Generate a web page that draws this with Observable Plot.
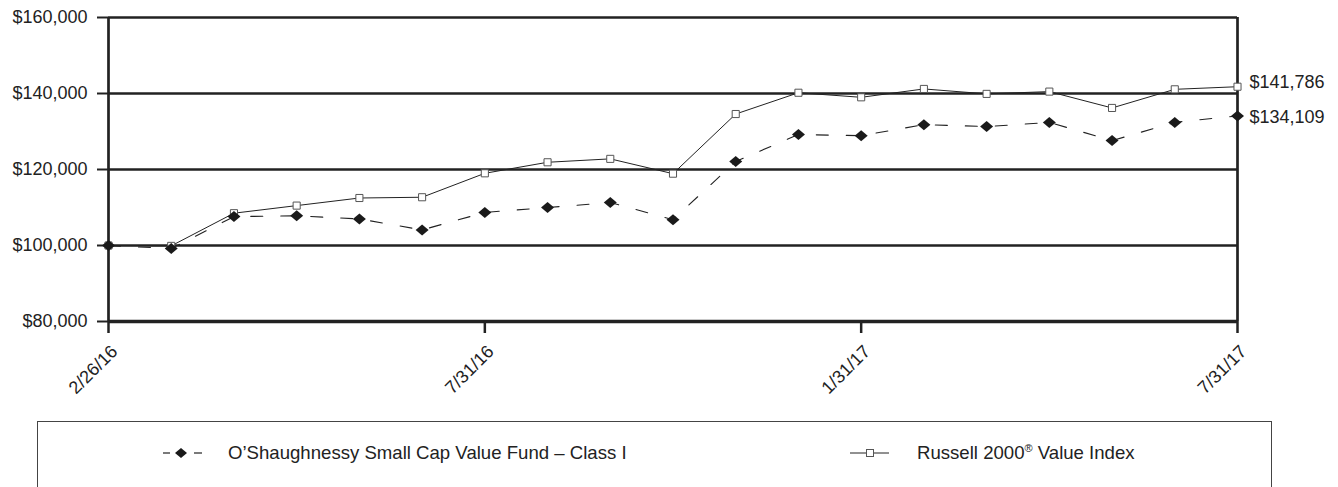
<!DOCTYPE html>
<html>
<head>
<meta charset="utf-8">
<script src="https://cdn.jsdelivr.net/npm/d3@7"></script>
<script src="https://cdn.jsdelivr.net/npm/@observablehq/plot@0.6"></script>
<style>
  html, body { margin: 0; padding: 0; background: #fff; }
  body { width: 1338px; height: 487px; overflow: hidden; font-family: "Liberation Sans", Arial, Helvetica, sans-serif; color: #222; }
  #chart svg { display: block; max-width: none; }
  #legend { position: relative; margin-left: 37px; width: 1235px; height: 90px; border: 1px solid #444; box-sizing: border-box; }
  .item { position: absolute; top: 21px; font-size: 18.6px; line-height: 20px; white-space: nowrap; }
  .sym { position: absolute; top: 21px; }
  sup { font-size: 11px; vertical-align: 7px; line-height: 0; }
</style>
</head>
<body>
<div id="chart"></div>
<div id="legend">
  <svg class="sym" style="left:124px" width="42" height="20">
    <line x1="1" y1="10" x2="8" y2="10" stroke="#222" stroke-width="1.2"/>
    <path d="M13,10 L19,5 L25,10 L19,15 Z" fill="#1a1a1a"/>
    <line x1="32" y1="10" x2="40" y2="10" stroke="#222" stroke-width="1.2"/>
  </svg>
  <div class="item" style="left:190px">O’Shaughnessy Small Cap Value Fund – Class I</div>
  <svg class="sym" style="left:811px" width="42" height="20">
    <line x1="1" y1="10" x2="40" y2="10" stroke="#222" stroke-width="1"/>
    <rect x="17.5" y="6.5" width="7" height="7" fill="#fff" stroke="#555" stroke-width="1"/>
  </svg>
  <div class="item" style="left:879px">Russell 2000<sup>®</sup> Value Index</div>
</div>
<script>
const dates = ["2/26/16","2/29/16","3/31/16","4/30/16","5/31/16","6/30/16","7/31/16","8/31/16","9/30/16","10/31/16","11/30/16","12/31/16","1/31/17","2/28/17","3/31/17","4/30/17","5/31/17","6/30/17","7/31/17"];
const fundValues = [100000, 99200, 107600, 107800, 107000, 104100, 108700, 110000, 111300, 106800, 122100, 129200, 128900, 131800, 131300, 132400, 127600, 132400, 134109];
const russellValues = [100000, 99900, 108500, 110500, 112500, 112700, 119000, 121900, 122800, 118900, 134600, 140200, 139000, 141200, 139900, 140500, 136200, 141100, 141786];
const xTickLabels = ["2/26/16","7/31/16","1/31/17","7/31/17"];
const yTickValues = [80000, 100000, 120000, 140000, 160000];
const gridValues = [100000, 120000, 140000, 160000];

const fund = dates.map((d, i) => ({date: d, value: fundValues[i]}));
const russell = dates.map((d, i) => ({date: d, value: russellValues[i]}));
const lastIdx = dates.length - 1;
const fmt = d => "$" + d3.format(",")(d);

const wideDiamond = {
  draw(ctx, size) {
    ctx.moveTo(-6.5, 0); ctx.lineTo(0, -5.5); ctx.lineTo(6.5, 0); ctx.lineTo(0, 5.5); ctx.closePath();
  }
};

const chart = Plot.plot({
  width: 1338,
  height: 421,
  marginLeft: 108,
  marginRight: 101,
  marginTop: 17,
  marginBottom: 100,
  style: {fontFamily: "'Liberation Sans', Arial, Helvetica, sans-serif", color: "#222", background: "#fff", overflow: "visible"},
  x: {type: "point", domain: dates, padding: 0, round: false, axis: null, label: null},
  y: {domain: [80000, 160000], axis: null, label: null},
  marks: [
    Plot.ruleY(gridValues, {stroke: "#222", strokeWidth: 2.7}),
    Plot.ruleX([dates[0], dates[lastIdx]], {stroke: "#222", strokeWidth: 2.7}),
    Plot.ruleY([80000], {stroke: "#222", strokeWidth: 3.3}),
    Plot.axisY(yTickValues, {label: null, tickSize: 11, tickPadding: 10, fontSize: 18, stroke: "#222", strokeWidth: 2, tickFormat: fmt, fill: "#222"}),
    Plot.axisX(xTickLabels, {label: null, tickSize: 12, tickFormat: () => "", stroke: "#222", strokeWidth: 2.5}),
    Plot.axisX(xTickLabels, {label: null, tickSize: 0, tickPadding: 27, tickRotate: -45, fontSize: 18, fill: "#222", dx: 6}),
    Plot.line(fund, {x: "date", y: "value", stroke: "#222", strokeWidth: 1.1, strokeDasharray: "12,18"}),
    Plot.line(russell, {x: "date", y: "value", stroke: "#222", strokeWidth: 1}),
    Plot.dot(russell, {x: "date", y: "value", symbol: "square", r: 4, stroke: "#555", fill: "#fff", strokeWidth: 1}),
    Plot.dot(fund, {x: "date", y: "value", symbol: wideDiamond, r: 5, fill: "#1a1a1a", stroke: "none"}),
    Plot.text([russell[lastIdx]], {x: "date", y: "value", text: d => fmt(d.value), dx: 12, dy: -4, textAnchor: "start", fontSize: 18, fill: "#222"}),
    Plot.text([fund[lastIdx]], {x: "date", y: "value", text: d => fmt(d.value), dx: 12, dy: 1, textAnchor: "start", fontSize: 18, fill: "#222"})
  ]
});
document.getElementById("chart").appendChild(chart);
</script>
</body>
</html>
